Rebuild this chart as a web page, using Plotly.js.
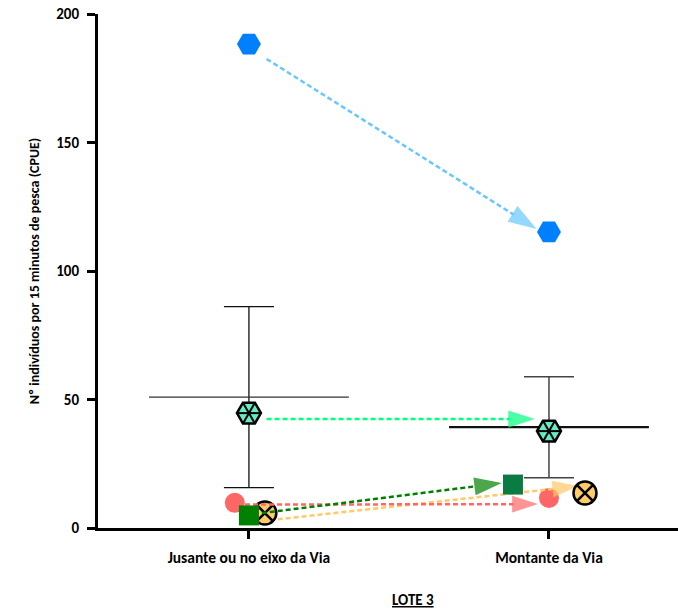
<!DOCTYPE html>
<html>
<head>
<meta charset="utf-8">
<script src="https://cdn.plot.ly/plotly-3.0.1.min.js"></script>
<style>html,body{margin:0;padding:0;background:#fff;}#chart{width:678px;height:612px;}</style>
</head>
<body>
<div id="chart"></div>
<script>
// ---------- data ----------
const categories = ["Jusante ou no eixo da Via", "Montante da Via"];
const categoryPos = [1, 2];
const blueValues = [188.3, 115.2];
const tealValues = [44.7, 37.7];
const redValues = [9.8, 11.7];
const greenValues = [4.9, 16.9];
const orangeValues = [5.8, 13.6];
const rangeLow = [15.7, 19.6];
const rangeHigh = [86.1, 58.9];
// arrow start / end values
const blueArrow = [182.5, 116.3];
const tealArrow = [42.4, 42.4];
const redArrow = [9.1, 9.3];
const greenArrow = [5.8, 17.5];
const orangeArrow = [2.7, 16.3];
const yTickVals = [0, 50, 100, 150, 200];

// ---------- styles ----------
const FONT = "Carlito, Lato, 'Liberation Sans', sans-serif";
const offsets = {
  blue: {pts: [0, 0], arrow: [0.059, -0.041], arrowSize: 30},
  teal: {pts: [0, 0], arrow: [0.059, -0.047], arrowSize: 28},
  red: {pts: [-0.047, 0], arrow: [-0.013, -0.037], arrowSize: 27},
  green: {pts: [0, -0.12], arrow: [0.043, -0.157], arrowSize: 29},
  orange: {pts: [0.053, 0.12], arrow: [0.043, 0.097], arrowSize: 27}
};

function px(key) { return categoryPos.map((c, i) => c + offsets[key].pts[i]); }

function arrowTrace(key, vals, color) {
  const o = offsets[key];
  return {
    type: 'scatter', mode: 'lines+markers', hoverinfo: 'skip', cliponaxis: false,
    x: categoryPos.map((c, i) => c + o.arrow[i]),
    y: vals,
    line: {color: color, width: 2.5, dash: '5px,3px'},
    marker: {symbol: ['circle', 'arrow'], size: [0, o.arrowSize], color: color,
             angleref: 'previous', line: {width: 0}}
  };
}

const traces = [];

// blue hexagons + arrow
traces.push({type: 'scatter', mode: 'markers', cliponaxis: false, x: px('blue'), y: blueValues,
  marker: {symbol: 'hexagon2', size: 24, color: '#0080FF', line: {width: 0}}});
traces.push(arrowTrace('blue', blueArrow, '#66C8FF'));

// range bars (one trace per category)
const rangeStyle = [
  {ey: '#111111', eyw: 1.3, ex: '#333333', exw: 1.2},
  {ey: '#444444', eyw: 1.5, ex: '#111111', exw: 2.2}
];
categoryPos.forEach((c, i) => {
  const mid = (rangeLow[i] + rangeHigh[i]) / 2;
  const half = (rangeHigh[i] - rangeLow[i]) / 2;
  traces.push({type: 'scatter', mode: 'markers', cliponaxis: false, x: [c], y: [mid],
    marker: {size: 0.1, color: 'rgba(0,0,0,0)'},
    error_y: {type: 'constant', value: half, color: rangeStyle[i].ey, thickness: rangeStyle[i].eyw, width: 25},
    error_x: {type: 'constant', value: 0.333, color: rangeStyle[i].ex, thickness: rangeStyle[i].exw, width: 0}});
});

// teal hexagons with spokes
traces.push({type: 'scatter', mode: 'markers', cliponaxis: false, x: px('teal'), y: tealValues,
  marker: {symbol: 'hexagon2', size: 24, color: '#66EBC6', line: {width: 2.5, color: '#000'}}});
const spokeX = [], spokeY = [], spokeA = [];
[0, 60, 120].forEach(a => { px('teal').forEach((x, i) => { spokeX.push(x); spokeY.push(tealValues[i]); spokeA.push(a); }); });
traces.push({type: 'scatter', mode: 'markers', cliponaxis: false, x: spokeX, y: spokeY,
  marker: {symbol: 'line-ew', size: 17, angle: spokeA, line: {width: 2, color: '#000'}}});
traces.push(arrowTrace('teal', tealArrow, '#00FF80'));

// red circles
traces.push({type: 'scatter', mode: 'markers', cliponaxis: false, x: px('red'), y: redValues,
  marker: {symbol: 'circle', size: 20, color: '#FF6666', line: {width: 0}}});
// orange arrow, markers
traces.push(arrowTrace('orange', orangeArrow, '#FFC966'));
traces.push({type: 'scatter', mode: 'markers', cliponaxis: false, x: px('orange'), y: orangeValues,
  marker: {symbol: 'circle-x', size: 23, color: '#FFCC66', line: {width: 2.5, color: '#000'}}});
// red arrow
traces.push(arrowTrace('red', redArrow, '#FF6666'));
// green squares + arrow
traces.push({type: 'scatter', mode: 'markers', cliponaxis: false, x: px('green'), y: greenValues,
  marker: {symbol: 'square', size: 20, color: ['#008000', '#0B7B44'], line: {width: 0}}});
traces.push(arrowTrace('green', greenArrow, '#008000'));

const layout = {
  width: 678, height: 612,
  margin: {l: 98, r: 0, t: 14, b: 84},
  paper_bgcolor: '#fff', plot_bgcolor: '#fff',
  showlegend: false,
  font: {family: FONT, color: '#000'},
  xaxis: {
    range: [0.497, 2.43], tickvals: categoryPos, ticktext: categories.map(t => '<b>' + t + '</b>'),
    showgrid: false, zeroline: false, showline: true, linewidth: 3, linecolor: '#000',
    ticks: 'outside', ticklen: 8, tickwidth: 3, tickcolor: '#000', ticklabelstandoff: 5,
    tickfont: {size: 15.5, family: FONT}, fixedrange: true
  },
  yaxis: {
    range: [0, 200], tickvals: yTickVals, ticktext: yTickVals.map(v => '<b>' + v + '</b>'),
    showgrid: false, zeroline: false, showline: true, linewidth: 3, linecolor: '#000',
    ticks: 'outside', ticklen: 8, tickwidth: 3, tickcolor: '#000', ticklabelstandoff: 5,
    tickfont: {size: 15, family: FONT}, fixedrange: true,
    title: {text: '<b>Nº indivíduos por 15 minutos de pesca (CPUE)</b>', font: {size: 14, family: FONT}, standoff: 14}
  },
  annotations: [{
    text: '<b><u>LOTE 3</u></b>', xref: 'paper', yref: 'paper', x: 0.543, y: -0.14,
    xanchor: 'center', yanchor: 'middle', showarrow: false, font: {size: 15, family: FONT}
  }]
};

Plotly.newPlot('chart', traces, layout, {displayModeBar: false, staticPlot: true});
</script>
</body>
</html>
